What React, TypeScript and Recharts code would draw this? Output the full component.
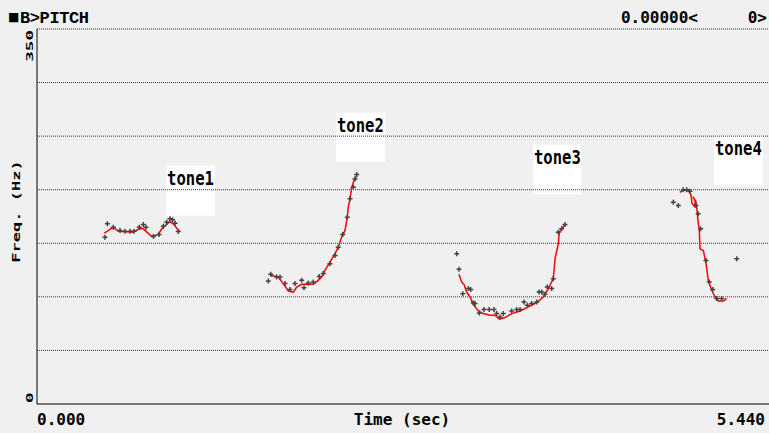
import React from 'react';
import { ComposedChart, Line, Scatter, XAxis, YAxis, ReferenceLine, ReferenceArea } from 'recharts';

// Pitch contour (red line) per tone: t = time (sec), f = frequency (Hz)
const tone1Line = [
  { t: 0.500, f: 159.5 }, { t: 0.567, f: 165.0 }, { t: 0.604, f: 161.3 }, { t: 0.716, f: 160.4 },
  { t: 0.760, f: 163.5 }, { t: 0.790, f: 163.5 }, { t: 0.852, f: 156.4 }, { t: 0.901, f: 158.2 },
  { t: 0.927, f: 163.5 }, { t: 0.988, f: 170.3 }, { t: 1.013, f: 168.2 }, { t: 1.058, f: 161.0 },
];
const tone2Line = [
  { t: 1.732, f: 120.1 }, { t: 1.793, f: 118.5 }, { t: 1.830, f: 112.4 }, { t: 1.868, f: 105.5 },
  { t: 1.905, f: 104.5 }, { t: 1.930, f: 109.2 }, { t: 1.967, f: 111.7 }, { t: 2.053, f: 111.7 },
  { t: 2.090, f: 115.4 }, { t: 2.116, f: 118.5 }, { t: 2.140, f: 124.7 }, { t: 2.177, f: 132.5 },
  { t: 2.215, f: 140.3 }, { t: 2.239, f: 146.5 }, { t: 2.264, f: 155.7 }, { t: 2.289, f: 162.0 },
  { t: 2.306, f: 174.4 }, { t: 2.313, f: 183.7 }, { t: 2.326, f: 191.5 }, { t: 2.339, f: 202.3 },
  { t: 2.356, f: 208.5 }, { t: 2.376, f: 213.2 },
];
const tone3Line = [
  { t: 3.136, f: 121.0 }, { t: 3.156, f: 113.8 }, { t: 3.173, f: 111.7 }, { t: 3.193, f: 104.5 },
  { t: 3.218, f: 99.9 }, { t: 3.242, f: 93.1 }, { t: 3.280, f: 86.8 }, { t: 3.317, f: 84.4 },
  { t: 3.367, f: 82.8 }, { t: 3.404, f: 82.8 }, { t: 3.436, f: 79.1 }, { t: 3.478, f: 80.7 },
  { t: 3.528, f: 84.4 }, { t: 3.590, f: 86.8 }, { t: 3.651, f: 90.6 }, { t: 3.714, f: 94.7 },
  { t: 3.763, f: 99.9 }, { t: 3.800, f: 107.7 }, { t: 3.837, f: 117.0 }, { t: 3.850, f: 135.6 },
  { t: 3.874, f: 149.6 }, { t: 3.882, f: 160.4 }, { t: 3.907, f: 164.5 }, { t: 3.924, f: 167.6 },
];
const tone4Line = [
  { t: 4.778, f: 197.6 }, { t: 4.803, f: 199.9 }, { t: 4.840, f: 199.2 }, { t: 4.860, f: 195.5 },
  { t: 4.868, f: 187.1 }, { t: 4.888, f: 184.3 }, { t: 4.892, f: 189.0 }, { t: 4.875, f: 193.6 },
  { t: 4.897, f: 189.0 }, { t: 4.905, f: 180.6 }, { t: 4.912, f: 171.3 }, { t: 4.922, f: 162.0 },
  { t: 4.927, f: 144.9 }, { t: 4.952, f: 143.3 }, { t: 4.972, f: 131.0 }, { t: 4.989, f: 115.4 },
  { t: 5.014, f: 106.1 }, { t: 5.039, f: 99.9 }, { t: 5.063, f: 96.2 }, { t: 5.100, f: 96.2 },
  { t: 5.126, f: 98.4 },
];

// Raw pitch samples (gray + markers)
const pitchSamples = [
  { t: 0.505, f: 155.7 }, { t: 0.523, f: 168.2 }, { t: 0.567, f: 165.0 }, { t: 0.617, f: 162.0 },
  { t: 0.654, f: 161.3 }, { t: 0.691, f: 161.3 }, { t: 0.721, f: 161.3 }, { t: 0.760, f: 165.0 },
  { t: 0.790, f: 167.5 }, { t: 0.810, f: 165.0 }, { t: 0.865, f: 156.4 }, { t: 0.907, f: 158.2 },
  { t: 0.939, f: 166.0 }, { t: 0.964, f: 169.7 }, { t: 0.988, f: 172.9 }, { t: 1.008, f: 171.9 },
  { t: 1.026, f: 168.8 }, { t: 1.050, f: 161.0 },
  { t: 1.719, f: 114.8 }, { t: 1.737, f: 121.0 }, { t: 1.781, f: 118.5 }, { t: 1.806, f: 118.5 },
  { t: 1.843, f: 112.4 }, { t: 1.880, f: 106.8 }, { t: 1.917, f: 112.4 }, { t: 1.967, f: 115.4 },
  { t: 1.984, f: 108.6 }, { t: 2.016, f: 112.9 }, { t: 2.053, f: 113.8 }, { t: 2.098, f: 119.1 },
  { t: 2.128, f: 121.7 }, { t: 2.177, f: 131.0 }, { t: 2.215, f: 138.7 }, { t: 2.239, f: 146.4 },
  { t: 2.272, f: 158.2 }, { t: 2.306, f: 174.4 }, { t: 2.326, f: 191.5 }, { t: 2.351, f: 202.3 },
  { t: 2.363, f: 210.1 }, { t: 2.376, f: 214.1 },
  { t: 3.119, f: 140.3 }, { t: 3.136, f: 125.7 }, { t: 3.164, f: 103.0 }, { t: 3.206, f: 107.7 },
  { t: 3.223, f: 106.8 }, { t: 3.243, f: 94.3 }, { t: 3.255, f: 93.7 }, { t: 3.287, f: 85.0 },
  { t: 3.322, f: 88.1 }, { t: 3.361, f: 88.1 }, { t: 3.396, f: 88.1 }, { t: 3.416, f: 84.4 },
  { t: 3.441, f: 81.3 }, { t: 3.465, f: 84.4 }, { t: 3.528, f: 86.8 }, { t: 3.565, f: 88.1 },
  { t: 3.590, f: 88.1 }, { t: 3.619, f: 95.2 }, { t: 3.644, f: 92.2 }, { t: 3.676, f: 93.7 },
  { t: 3.714, f: 95.2 }, { t: 3.731, f: 104.5 }, { t: 3.751, f: 104.5 }, { t: 3.775, f: 102.4 },
  { t: 3.792, f: 109.2 }, { t: 3.825, f: 107.7 }, { t: 3.837, f: 117.0 }, { t: 3.874, f: 160.4 },
  { t: 3.899, f: 163.5 }, { t: 3.924, f: 167.6 },
  { t: 4.729, f: 188.3 }, { t: 4.766, f: 185.2 }, { t: 4.803, f: 199.9 }, { t: 4.828, f: 199.9 },
  { t: 4.853, f: 198.6 }, { t: 4.897, f: 185.2 }, { t: 4.914, f: 177.5 }, { t: 4.932, f: 163.5 },
  { t: 4.972, f: 134.0 }, { t: 4.996, f: 113.8 }, { t: 5.022, f: 106.8 }, { t: 5.051, f: 98.4 },
  { t: 5.088, f: 98.4 }, { t: 5.200, f: 135.6 },
];

// Tone label boxes (data coordinates)
const toneLabels = [
  { name: 'tone1', t1: 0.959, t2: 1.323, f1: 175.9, f2: 222.5 },
  { name: 'tone2', t1: 2.222, t2: 2.586, f1: 226.2, f2: 271.8 },
  { name: 'tone3', t1: 3.686, t2: 4.043, f1: 195.5, f2: 242.0 },
  { name: 'tone4', t1: 5.031, t2: 5.395, f1: 203.9, f2: 250.4 },
];

const gridValues = [50, 100, 150, 200, 250, 300, 350];
const xTicks = [0, 5.44];
const yTicks = [0, 350];
const xTickLabels = ['0.000', '5.440'];

const MONO = '"DejaVu Sans Mono", monospace';

const PlusShape = (props: any) => {
  const { cx, cy } = props;
  if (cx == null || cy == null) return null;
  return (
    <path
      d={`M${cx - 2.5},${cy}H${cx + 2.5}M${cx},${cy - 2.5}V${cy + 2.5}`}
      stroke="#444"
      strokeWidth={1.5}
      fill="none"
    />
  );
};

const XTick = (props: any) => {
  const { x, y, payload, index } = props;
  const first = index === 0;
  return (
    <text
      x={first ? x : x - 4}
      y={y + 21}
      textAnchor={first ? 'start' : 'end'}
      fontFamily={MONO}
      fontWeight="bold"
      fontSize={16}
      fill="#000"
    >
      {xTickLabels[index] ?? String(payload.value)}
    </text>
  );
};

const YTick = (props: any) => {
  const { x, y, payload } = props;
  const top = payload.value !== 0;
  const ay = top ? y + 1 : y - 1;
  return (
    <text
      transform={`translate(${x - 4.5},${ay}) rotate(-90) scale(1.85,1)`}
      textAnchor={top ? 'end' : 'start'}
      fontFamily={MONO}
      fontWeight="bold"
      fontSize={9.5}
      fill="#000"
    >
      {String(payload.value)}
    </text>
  );
};

const ToneLabel = (name: string) => (props: any) => {
  const vb = props.viewBox || {};
  return (
    <text
      transform={`translate(${vb.x + 1},${vb.y + 19}) scale(0.82,1)`}
      fontFamily={MONO}
      fontWeight="bold"
      fontSize={19}
      fill="#000"
    >
      {name}
    </text>
  );
};

const XLabel = (props: any) => {
  const vb = props.viewBox || {};
  return (
    <text
      x={vb.x + vb.width / 2 - 1}
      y={vb.y + 21}
      textAnchor="middle"
      fontFamily={MONO}
      fontWeight="bold"
      fontSize={16}
      fill="#000"
    >
      Time (sec)
    </text>
  );
};

const YLabel = (props: any) => {
  const vb = props.viewBox || {};
  const cy = vb.y + vb.height / 2 - 5;
  return (
    <text
      transform={`translate(19.5,${cy}) rotate(-90) scale(1.7,1)`}
      textAnchor="middle"
      fontFamily={MONO}
      fontWeight="bold"
      fontSize={10}
      fill="#000"
    >
      Freq. (Hz)
    </text>
  );
};

export default function App() {
  const lines = [tone1Line, tone2Line, tone3Line, tone4Line];
  return (
    <div
      style={{
        position: 'fixed',
        left: 0,
        top: 0,
        width: 769,
        height: 433,
        background: '#f0f0f0',
        overflow: 'hidden',
      }}
    >
      <svg width={769} height={30} style={{ position: 'absolute', left: 0, top: 0 }}>
        <text x={8} y={21} fontFamily='"DejaVu Sans", sans-serif' fontSize={12} fill="#000">■</text>
        <text
          x={20}
          y={23}
          fontFamily='"Liberation Mono", monospace'
          fontWeight="bold"
          fontSize={17}
          letterSpacing={-0.4}
          fill="#000"
        >
          B&gt;PITCH
        </text>
        <text x={698} y={23} textAnchor="end" fontFamily={MONO} fontWeight="bold" fontSize={16} fill="#000">
          0.00000&lt;
        </text>
        <text x={767} y={23} textAnchor="end" fontFamily={MONO} fontWeight="bold" fontSize={16} fill="#000">
          0&gt;
        </text>
      </svg>
      <ComposedChart
        width={769}
        height={433}
        margin={{ top: 29, right: 0, bottom: 0, left: 0 }}
        style={{ position: 'absolute', left: 0, top: 0 }}
      >
        <XAxis
          type="number"
          dataKey="t"
          domain={[0, 5.44]}
          ticks={xTicks}
          height={29}
          tickSize={0}
          tickMargin={0}
          tickLine={false}
          axisLine={{ stroke: '#000', strokeWidth: 1 }}
          tick={<XTick />}
          interval={0}
          allowDataOverflow
          label={<XLabel />}
        />
        <YAxis
          type="number"
          dataKey="f"
          domain={[0, 350]}
          ticks={yTicks}
          width={37}
          tickSize={0}
          tickMargin={0}
          tickLine={false}
          axisLine={{ stroke: '#000', strokeWidth: 1 }}
          tick={<YTick />}
          interval={0}
          allowDataOverflow
          label={<YLabel />}
        />
        {gridValues.map((v) => (
          <ReferenceLine key={v} y={v} stroke="#333" strokeDasharray="1 1" strokeWidth={1} />
        ))}
        {toneLabels.map((l) => (
          <ReferenceArea
            key={l.name}
            x1={l.t1}
            x2={l.t2}
            y1={l.f1}
            y2={l.f2}
            fill="#ffffff"
            fillOpacity={1}
            stroke="none"
            label={ToneLabel(l.name)}
          />
        ))}
        <Scatter data={pitchSamples} dataKey="f" shape={<PlusShape />} isAnimationActive={false} />
        {lines.map((d, i) => (
          <Line
            key={i}
            data={d}
            dataKey="f"
            type="linear"
            stroke="#ff0000"
            strokeWidth={1.5}
            dot={false}
            activeDot={false}
            isAnimationActive={false}
          />
        ))}
      </ComposedChart>
    </div>
  );
}
